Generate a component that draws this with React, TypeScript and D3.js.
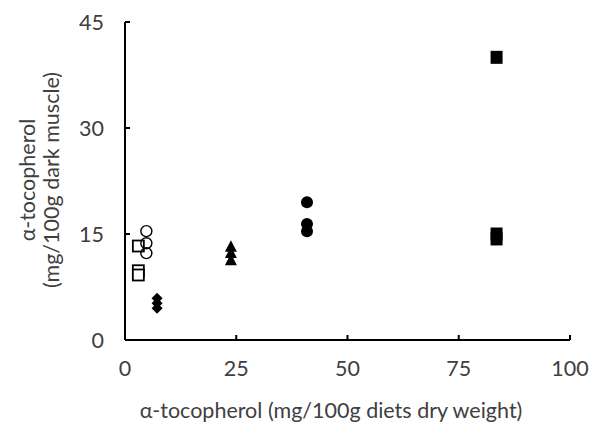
import React from "react";
import * as d3 from "d3";

const xTicks = [0, 25, 50, 75, 100];
const yTicks = [0, 15, 30, 45];

// series: [x, y]
const openSquares: [number, number][] = [[3.0, 13.3], [3.0, 9.8], [3.0, 9.2]];
const openCircles: [number, number][] = [[4.8, 15.4], [4.8, 13.7], [4.8, 12.3]];
const diamonds: [number, number][] = [[7.2, 5.9], [7.2, 5.2], [7.2, 4.5]];
const triangles: [number, number][] = [[23.8, 13.2], [23.8, 12.3], [23.8, 11.3]];
const filledCircles: [number, number][] = [[40.9, 19.5], [40.9, 16.4], [40.9, 15.4]];
const filledSquares: [number, number][] = [[83.5, 40.0], [83.5, 15.0], [83.5, 14.3]];

const W = 598, H = 428;
const font = "Lato, 'Open Sans', sans-serif";
const textColor = "#404040";
const fs = 21.5;

export default function App() {
  const x = d3.scaleLinear().domain([0, 100]).range([125, 570]);
  const y = d3.scaleLinear().domain([0, 45]).range([340, 22]);

  const diamondPath = d3.line()([[0, -5.5], [5.5, 0], [0, 5.5], [-5.5, 0]]) + "Z";
  const trianglePath = d3.line()([[0, -6.5], [6, 5], [-6, 5]]) + "Z";

  return (
    <svg width={W} height={H} style={{ position: "absolute", left: 0, top: 0 }}>
      <rect width={W} height={H} fill="white" />
      {/* axes */}
      <line x1={x(0)} x2={x(100)} y1={y(0)} y2={y(0)} stroke="black" strokeWidth={2} />
      <line x1={x(0)} x2={x(0)} y1={y(0)} y2={y(45)} stroke="black" strokeWidth={2} />
      {xTicks.map((t) => (
        <g key={"xt" + t}>
          <line x1={x(t)} x2={x(t)} y1={y(0)} y2={y(0) - 5} stroke="black" strokeWidth={2} />
          <text x={x(t)} y={y(0) + 36} textAnchor="middle" fontFamily={font} fontSize={fs} fill={textColor}>{t}</text>
        </g>
      ))}
      {yTicks.map((t) => (
        <g key={"yt" + t}>
          <line x1={x(0)} x2={x(0) + 5} y1={y(t)} y2={y(t)} stroke="black" strokeWidth={2} />
          <text x={104} y={y(t)} dy="0.35em" textAnchor="end" fontFamily={font} fontSize={fs} fill={textColor}>{t}</text>
        </g>
      ))}
      <text x={331} y={418} textAnchor="middle" fontFamily={font} fontSize={fs} fill={textColor}>
        α-tocopherol (mg/100g diets dry weight)
      </text>
      <g transform="translate(0,180) rotate(-90)" fontFamily={font} fontSize={fs} fill={textColor} textAnchor="middle">
        <text x={0} y={35}>α-tocopherol</text>
        <text x={0} y={59}>(mg/100g dark muscle)</text>
      </g>
      {/* markers */}
      {openSquares.map(([a, b], i) => (
        <rect key={"os" + i} x={x(a) - 5.5} y={y(b) - 5.5} width={11} height={11} fill="white" stroke="black" strokeWidth={1.8} />
      ))}
      {openCircles.map(([a, b], i) => (
        <circle key={"oc" + i} cx={x(a)} cy={y(b)} r={5.5} fill="none" stroke="black" strokeWidth={1.4} />
      ))}
      {diamonds.map(([a, b], i) => (
        <path key={"d" + i} transform={`translate(${x(a)},${y(b)})`} d={diamondPath} fill="black" />
      ))}
      {triangles.map(([a, b], i) => (
        <path key={"t" + i} transform={`translate(${x(a)},${y(b)})`} d={trianglePath} fill="black" />
      ))}
      {filledCircles.map(([a, b], i) => (
        <circle key={"fc" + i} cx={x(a)} cy={y(b)} r={6} fill="black" />
      ))}
      {filledSquares.map(([a, b], i) => (
        <rect key={"fs" + i} x={x(a) - 6} y={y(b) - 6.5} width={12} height={13} fill="black" />
      ))}
    </svg>
  );
}
